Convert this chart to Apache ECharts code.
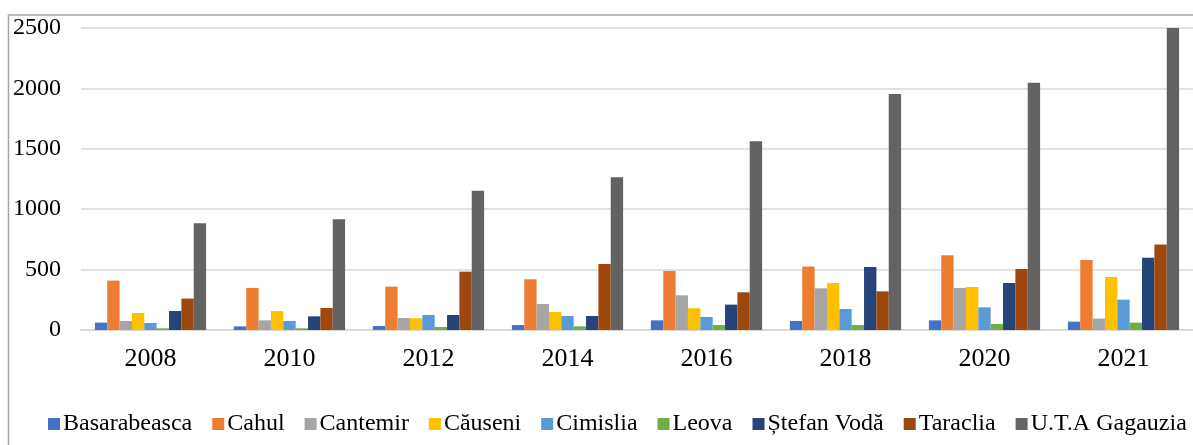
<!DOCTYPE html>
<html>
<head>
<meta charset="utf-8">
<script src="https://cdn.jsdelivr.net/npm/echarts@6/dist/echarts.min.js"></script>
<style>
  html, body { margin: 0; padding: 0; background: #fff; }
  #chart { width: 1193px; height: 445px; }
</style>
</head>
<body>
<div id="chart"></div>
<script>
var years = ['2008', '2010', '2012', '2014', '2016', '2018', '2020', '2021'];
var yTicks = [0, 500, 1000, 1500, 2000, 2500];

var basarabeasca = [61, 30, 33, 41, 80, 75, 80, 69];
var cahul        = [409, 348, 359, 420, 489, 525, 619, 580];
var cantemir     = [75, 80, 99, 215, 287, 345, 348, 94];
var causeni      = [141, 157, 97, 149, 180, 389, 356, 439];
var cimislia     = [58, 75, 124, 116, 108, 174, 188, 251];
var leova        = [14, 14, 25, 30, 41, 41, 50, 61];
var stefanVoda   = [157, 113, 124, 116, 210, 522, 389, 599];
var taraclia     = [260, 182, 483, 547, 312, 320, 505, 707];
var gagauzia     = [884, 917, 1152, 1265, 1563, 1953, 2047, 2500];

var names = ['Basarabeasca', 'Cahul', 'Cantemir', 'Căuseni', 'Cimislia', 'Leova', 'Ștefan Vodă', 'Taraclia', 'U.T.A Gagauzia'];
var values = [basarabeasca, cahul, cantemir, causeni, cimislia, leova, stefanVoda, taraclia, gagauzia];
var colors = ['#4472C4', '#ED7D31', '#A5A5A5', '#FFC000', '#5B9BD5', '#70AD47', '#264478', '#9E480E', '#636363'];

var font = '"Liberation Serif", "Times New Roman", serif';

var myChart = echarts.init(document.getElementById('chart'));

var series = names.map(function (n, i) {
    return {
        name: n,
        type: 'bar',
        data: values[i],
        barGap: '0%',
        barCategoryGap: '20%',
        itemStyle: { color: colors[i] }
    };
});

var option = {
    animation: false,
    color: colors,
    graphic: [{
        type: 'rect',
        shape: { x: 8.5, y: 15, width: 1400, height: 600 },
        style: { fill: 'none', stroke: '#a6a6a6', lineWidth: 1.5 },
        silent: true
    }],
    grid: { left: 81, right: -4, top: 28, bottom: 115 },
    legend: {
        left: 43,
        top: 407,
        itemWidth: 12,
        itemHeight: 12,
        itemGap: 20,
        icon: 'rect',
        textStyle: { fontFamily: font, fontSize: 24, color: '#000', padding: [0, 0, 0, -2] },
        data: names
    },
    xAxis: {
        type: 'category',
        data: years,
        axisLine: { lineStyle: { color: '#d9d9d9', width: 2 } },
        axisTick: { show: false },
        axisLabel: { fontFamily: font, fontSize: 26, color: '#000', margin: 16 }
    },
    yAxis: {
        type: 'value',
        min: yTicks[0],
        max: yTicks[yTicks.length - 1],
        interval: 500,
        axisLine: { show: false },
        axisTick: { show: false },
        splitLine: { lineStyle: { color: '#d9d9d9', width: 1.5 } },
        axisLabel: {
            fontFamily: font, fontSize: 24, color: '#000', margin: 20,
            formatter: function (v) { return String(v); }
        }
    },
    series: series
};

myChart.setOption(option);
window.onresize = myChart.resize;
</script>
</body>
</html>
